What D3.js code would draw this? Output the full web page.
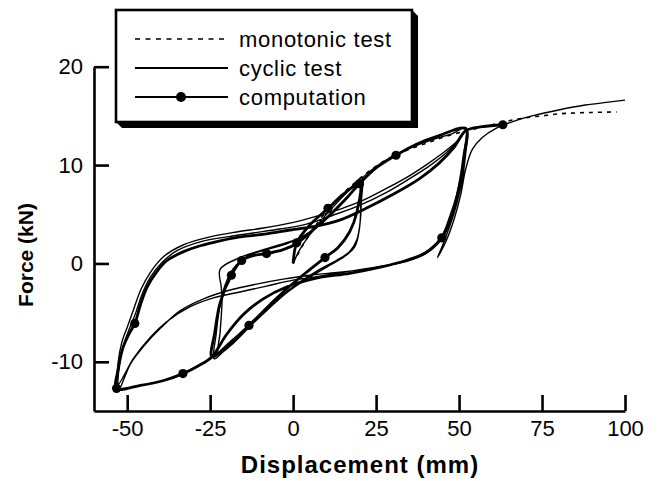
<!DOCTYPE html>
<html>
<head>
<meta charset="utf-8">
<script src="https://cdn.jsdelivr.net/npm/d3@7"></script>
<style>
  html, body { margin: 0; padding: 0; background: #fff; }
  svg { display: block; }
  text { font-family: "Liberation Sans", Arial, Helvetica, sans-serif; fill: #000; }
</style>
</head>
<body>
<svg id="chart" width="661" height="481"></svg>
<script>
// Axis ticks
const xTicks = [-50, -25, 0, 25, 50, 75, 100];
const yTicks = [-10, 0, 10, 20];

// Legend entries
const legendLabels = ["monotonic test", "cyclic test", "computation"];

// Monotonic test: displacement (mm), force (kN)
const monotonicTest = [
  [0, 0], [3, 1.9], [6, 3.5], [10, 5.3], [15, 7.1], [20, 8.6], [25, 9.9],
  [30, 10.9], [35, 11.6], [40, 12.2], [45, 12.8], [50, 13.3], [55, 13.7],
  [60, 14.1], [65, 14.5], [70, 14.8], [75, 15.0], [80, 15.2], [85, 15.3],
  [90, 15.35], [97.5, 15.4]
];

// Cyclic test record: displacement (mm), force (kN)
const cyclicTest = [
  [0, 0], [2, 1.4], [5, 2.9], [9, 4.6], [13, 6.1], [17, 7.5], [20.8, 8.8],
  [20.6, 6.5], [20.2, 4.2], [19.2, 2.4], [17, 1.2], [13, 0.3], [8, -0.6], [2, -1.9],
  [-4, -3.4], [-10, -5.3], [-15, -7.0], [-19.5, -8.4], [-23.8, -9.7],
  [-23.2, -7.2], [-22.2, -4.6], [-20.5, -2.2], [-18, -0.5], [-14, 0.7], [-8, 1.4],
  [-2, 2.0], [4, 2.9], [9, 4.2], [13, 5.5], [17, 7.0], [20.3, 8.3],
  [20.4, 6.2], [20, 3.6], [18.6, 1.7], [15.5, 0.7], [10, -0.4], [4, -1.6], [-2, -3.0],
  [-8, -4.8], [-13, -6.4], [-18, -8.1], [-22.5, -9.2],
  [-22, -7], [-21.4, -3.5], [-21.7, -2.3], [-22, -0.6], [-16, 0.6], [-10, 1.3],
  [-4, 1.9], [2, 2.6], [7, 3.7], [12, 5.2], [16, 6.6], [19.5, 8.0], [21.5, 8.9],
  [24, 9.6], [28, 10.5], [33, 11.4], [38, 12.1], [43, 12.7], [48, 13.2], [52, 13.8],
  [51.6, 11.5], [50.8, 9.2], [49.3, 7.0], [47.2, 4.8], [44.8, 2.8], [41, 1.4], [36, 0.5],
  [30, -0.1], [22, -0.6], [14, -0.9], [5, -1.2], [-3, -1.6], [-11, -2.1], [-19, -2.7],
  [-27, -3.6], [-34, -4.8], [-40, -6.6], [-45, -8.4], [-49, -10.2], [-52.6, -12.9],
  [-52.4, -10.4], [-51.1, -8.3], [-49.4, -6.7], [-47.4, -5.0], [-45.6, -3.2], [-43, -1.4],
  [-39.5, 0.1], [-35, 1.3], [-28, 2.2], [-20, 2.7], [-12, 3.1], [-4, 3.5], [4, 4.0], [12, 4.9],
  [20, 5.9], [28, 7.2], [35, 8.6], [41, 9.9], [46, 11.2], [50, 12.5], [52.2, 13.6],
  [51.8, 11], [50.7, 8.4], [49, 6], [46.8, 4], [44, 2.2], [40, 1.0], [34, 0.2],
  [26, -0.3], [17, -0.8], [8, -1.3], [0, -1.7], [-8, -2.3], [-16, -2.9], [-24, -3.5],
  [-31, -4.4], [-38, -5.9], [-43, -7.5], [-48, -9.6], [-53, -12.4],
  [-52.7, -10.0], [-51.6, -8.0], [-49.9, -6.4], [-48, -4.6], [-45.8, -2.6], [-43, -0.9],
  [-39, 0.7], [-33, 1.9], [-25, 2.7], [-17, 3.2], [-9, 3.6], [-1, 4.1], [7, 4.8], [14, 5.5],
  [21, 6.4], [28, 7.6], [34, 8.7], [40, 10.0], [45, 11.2], [49, 12.3], [52.4, 13.5],
  [52, 11.2], [51, 8.6], [49.4, 6.2], [47.2, 3.8], [45, 1.8], [43.5, 0.6],
  [46, 2.2], [48.5, 4.5], [50.5, 7], [52, 9.6], [54, 11.6], [57, 12.8], [61, 13.7],
  [66, 14.4], [72, 15.0], [80, 15.6], [88, 16.1], [95, 16.4], [100, 16.6]
];

// Computed response: displacement (mm), force (kN), marker flag
const computation = [
  [0, 0, 0], [1.1, 2.1, 1], [5, 3.9, 0], [10.5, 5.6, 1], [15, 7.0, 0], [20, 8.1, 1],
  [19.2, 5.2, 0], [17, 3.2, 0], [13.5, 1.6, 0], [9.6, 0.6, 1], [4, -0.9, 0],
  [-2, -2.6, 0], [-7, -4.2, 0], [-13.3, -6.3, 1], [-18.5, -7.9, 0], [-24.5, -9.5, 0],
  [-23.6, -7.0, 0], [-22, -4.0, 0], [-18.6, -1.2, 1], [-15.5, 0.3, 1], [-12, 0.8, 0],
  [-8, 1.0, 1], [-3, 1.4, 0], [1, 2.0, 0], [6, 3.4, 0], [11, 4.9, 0], [16, 6.6, 0],
  [20, 8.1, 0], [25, 9.7, 0], [31, 11.0, 1], [37, 12.1, 0], [44, 13.0, 0], [52, 13.7, 0],
  [51.4, 10.8, 0], [50, 7.8, 0], [47.8, 4.8, 0], [44.8, 2.6, 1], [40, 1.1, 0],
  [34, 0.3, 0], [26, -0.4, 0], [17, -1.0, 0], [7, -1.5, 0], [-2, -2.4, 0], [-9, -3.6, 0],
  [-15, -5.2, 0], [-20, -7.2, 0], [-24.5, -9.5, 0], [-28.5, -10.4, 0], [-33.2, -11.2, 1],
  [-39, -11.9, 0], [-46, -12.4, 0], [-53.2, -12.7, 1],
  [-52.6, -10.6, 0], [-51.3, -8.6, 0], [-49.5, -7.2, 0], [-47.7, -6.1, 1], [-46, -4.2, 0],
  [-44, -2.4, 0], [-41, -0.8, 0], [-38, 0.3, 0], [-33, 1.2, 0], [-28, 1.8, 0],
  [-22, 2.3, 0], [-16, 2.7, 0], [-8, 3.0, 0], [-1, 3.4, 0], [7, 3.8, 0], [14, 4.4, 0],
  [22, 5.6, 0], [30, 7.0, 0], [38, 8.6, 0], [44, 10.2, 0], [48.5, 11.8, 0], [52, 13.5, 0],
  [57, 13.9, 0], [63.2, 14.1, 1]
];

const svg = d3.select("#chart");

const x = d3.scaleLinear().domain([-60, 100]).range([94, 625]);
const y = d3.scaleLinear().domain([-15, 20]).range([411, 66.7]);

const line = d3.line()
  .x(d => x(d[0]))
  .y(d => y(d[1]))
  .curve(d3.curveCatmullRom.alpha(0.5));

// Curves
svg.append("path")
  .datum(monotonicTest)
  .attr("d", line)
  .attr("fill", "none")
  .attr("stroke", "#000")
  .attr("stroke-width", 1.6)
  .attr("stroke-dasharray", "4,5");

svg.append("path")
  .datum(cyclicTest)
  .attr("d", line)
  .attr("fill", "none")
  .attr("stroke", "#000")
  .attr("stroke-width", 1.4)
  .attr("stroke-linejoin", "round");

svg.append("path")
  .datum(computation)
  .attr("d", line)
  .attr("fill", "none")
  .attr("stroke", "#000")
  .attr("stroke-width", 2.8)
  .attr("stroke-linejoin", "round");

svg.append("g")
  .selectAll("circle")
  .data(computation.filter(d => d[2] === 1))
  .join("circle")
  .attr("cx", d => x(d[0]))
  .attr("cy", d => y(d[1]))
  .attr("r", 4.6)
  .attr("fill", "#000");

// Axes with inward ticks; labels use a plain hyphen for negatives
const plain = d => String(d);

const xAxis = svg.append("g")
  .attr("transform", `translate(0,${y(-15)})`)
  .call(d3.axisBottom(x).tickValues(xTicks).tickSizeInner(-16).tickSizeOuter(0).tickPadding(9).tickFormat(plain));

const yAxis = svg.append("g")
  .attr("transform", `translate(${x(-60)},0)`)
  .call(d3.axisLeft(y).tickValues(yTicks).tickSizeInner(-15).tickSizeOuter(0).tickPadding(11).tickFormat(plain));

[xAxis, yAxis].forEach(g => {
  g.select(".domain").attr("stroke", "#000").attr("stroke-width", 2.6);
  g.selectAll(".tick line").attr("stroke", "#000").attr("stroke-width", 2.6);
  g.selectAll(".tick text")
    .attr("fill", "#000")
    .style("font-family", "'Liberation Sans', Arial, sans-serif")
    .style("font-size", "22px");
});

// Axis titles
svg.append("text")
  .attr("x", 360)
  .attr("y", 473)
  .attr("text-anchor", "middle")
  .style("font-size", "24px")
  .style("font-weight", "bold")
  .style("letter-spacing", "1px")
  .text("Displacement (mm)");

svg.append("text")
  .attr("transform", "translate(33,255) rotate(-90)")
  .attr("text-anchor", "middle")
  .style("font-size", "21px")
  .style("font-weight", "bold")
  .text("Force (kN)");

// Legend box with drop shadow
const lg = { x: 116, y: 10, w: 296, h: 112, off: 6 };
svg.append("polygon")
  .attr("points", [
    [lg.x, lg.y + lg.h], [lg.x + lg.off, lg.y + lg.h + lg.off],
    [lg.x + lg.w + lg.off, lg.y + lg.h + lg.off], [lg.x + lg.w + lg.off, lg.y + lg.off],
    [lg.x + lg.w, lg.y]
  ].map(p => p.join(",")).join(" "))
  .attr("fill", "#000");
svg.append("rect")
  .attr("x", lg.x).attr("y", lg.y).attr("width", lg.w).attr("height", lg.h)
  .attr("fill", "#fff").attr("stroke", "#000").attr("stroke-width", 2.6);

const rowY = [39, 68, 97];
const legend = svg.append("g");
legendLabels.forEach((label, i) => {
  const ln = legend.append("line")
    .attr("x1", 135).attr("x2", 228)
    .attr("y1", rowY[i]).attr("y2", rowY[i])
    .attr("stroke", "#000")
    .attr("stroke-width", i === 0 ? 1.6 : 2);
  if (i === 0) ln.attr("stroke-dasharray", "5,5.5");
  if (i === 2) {
    legend.append("circle").attr("cx", 181).attr("cy", rowY[i]).attr("r", 5).attr("fill", "#000");
  }
  legend.append("text")
    .attr("x", 239)
    .attr("y", rowY[i] + 8)
    .style("font-size", "22px")
    .style("letter-spacing", "0.7px")
    .text(label);
});
</script>
</body>
</html>
